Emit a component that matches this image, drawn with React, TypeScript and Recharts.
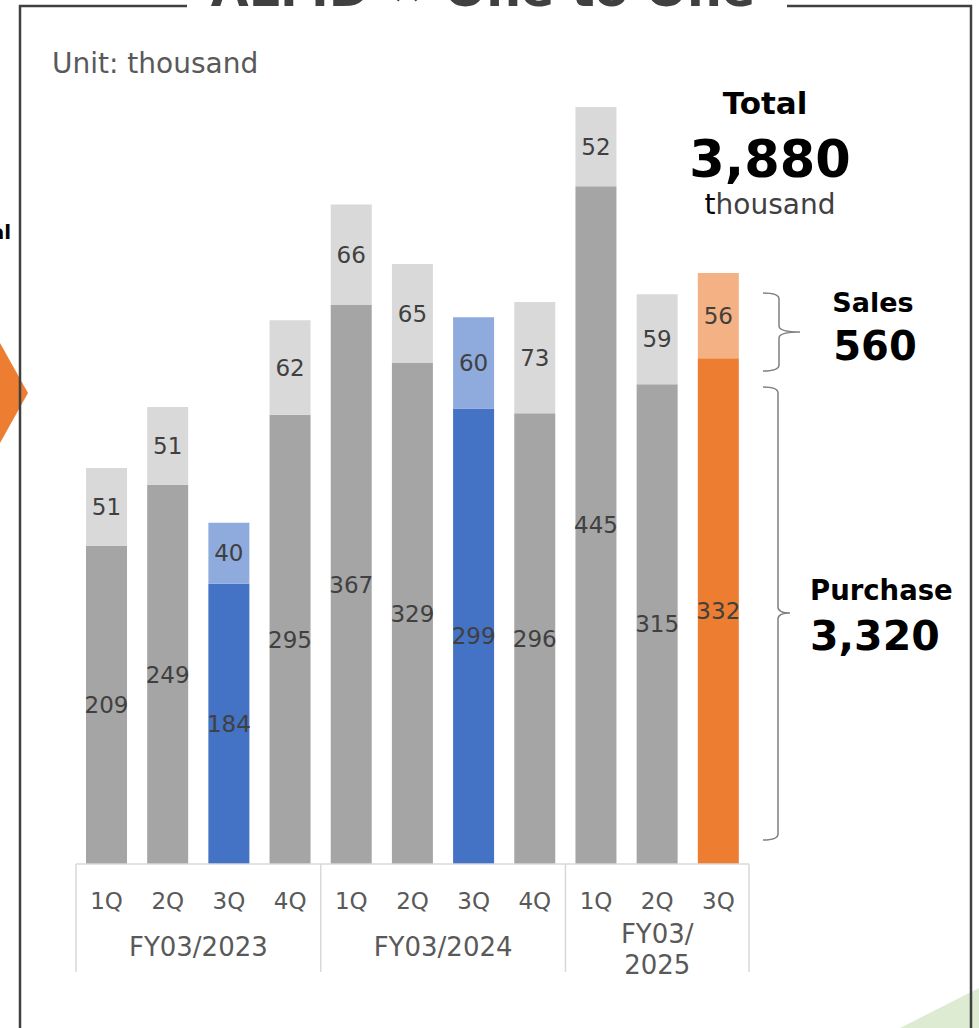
import { BarChart, Bar, XAxis, YAxis, Cell, LabelList } from "recharts";

const quarters = ["1Q", "2Q", "3Q", "4Q", "1Q", "2Q", "3Q", "4Q", "1Q", "2Q", "3Q"];
const fiscalYears = ["FY03/2023", "FY03/2024", "FY03/2025"];
const purchase = [209, 249, 184, 295, 367, 329, 299, 296, 445, 315, 332];
const sales = [51, 51, 40, 62, 66, 65, 60, 73, 52, 59, 56];

const data = quarters.map((q, i) => ({ q, purchase: purchase[i], sales: sales[i] }));

const W = 979;
const H = 1028;
const LEFT = 76;
const RIGHT = 749;
const BASE = 864;
const BAND = (RIGHT - LEFT) / quarters.length;
const FONT = "'DejaVu Sans', Verdana, sans-serif";

// 3Q bars are highlighted: blue for past years, orange for the current one
const fillFor = (i: number, top: boolean) => {
  if (i === 10) return top ? "#F4B183" : "#ED7D31";
  if (i === 2 || i === 6) return top ? "#8FAADC" : "#4472C4";
  return top ? "#D9D9D9" : "#A5A5A5";
};

function QuarterTick(props: any) {
  const { x, payload } = props;
  const i = payload.index ?? props.index;
  const line = "#D9D9D9";
  return (
    <g fontFamily={FONT}>
      <text x={x} y={BASE + 45} textAnchor="middle" fontSize={23} fill="#595959">
        {payload.value}
      </text>
      {i === 0 && <line x1={x - BAND / 2} x2={x - BAND / 2} y1={BASE} y2={972} stroke={line} strokeWidth={1.5} />}
      {(i === 3 || i === 7 || i === 10) && (
        <line x1={x + BAND / 2} x2={x + BAND / 2} y1={BASE} y2={972} stroke={line} strokeWidth={1.5} />
      )}
      {i === 1 && (
        <text x={x + BAND / 2} y={BASE + 92} textAnchor="middle" fontSize={26} fill="#595959">{fiscalYears[0]}</text>
      )}
      {i === 5 && (
        <text x={x + BAND / 2} y={BASE + 92} textAnchor="middle" fontSize={26} fill="#595959">{fiscalYears[1]}</text>
      )}
      {i === 9 && (
        <text x={x} textAnchor="middle" fontSize={26} fill="#595959">
          <tspan x={x} y={BASE + 79}>{fiscalYears[2].slice(0, 5)}</tspan>
          <tspan x={x} y={BASE + 110}>{fiscalYears[2].slice(5)}</tspan>
        </text>
      )}
    </g>
  );
}

const brace = (x0: number, x1: number, x2: number, top: number, mid: number, bot: number) => {
  const r = 6;
  return `M${x0},${top} Q${x1},${top} ${x1},${top + r} L${x1},${mid - r} Q${x1},${mid} ${x2},${mid} Q${x1},${mid} ${x1},${mid + r} L${x1},${bot - r} Q${x1},${bot} ${x0},${bot}`;
};

export default function App() {
  return (
    <div style={{ position: "absolute", left: 0, top: 0, width: W, height: H, background: "#fff", overflow: "hidden" }}>
      <BarChart
        width={W}
        height={H}
        data={data}
        margin={{ top: 72, right: W - RIGHT, bottom: 0, left: LEFT }}
        barSize={41}
      >
        <XAxis
          dataKey="q"
          height={H - BASE}
          axisLine={{ stroke: "#D9D9D9", strokeWidth: 1.5 }}
          tickLine={false}
          interval={0}
          tick={<QuarterTick />}
        />
        <YAxis hide domain={[0, 520]} />
        <Bar dataKey="purchase" stackId="a" isAnimationActive={false}>
          {data.map((_, i) => (
            <Cell key={i} fill={fillFor(i, false)} />
          ))}
          <LabelList dataKey="purchase" position="center" fill="#404040" fontSize={23} fontFamily={FONT} />
        </Bar>
        <Bar dataKey="sales" stackId="a" isAnimationActive={false}>
          {data.map((_, i) => (
            <Cell key={i} fill={fillFor(i, true)} />
          ))}
          <LabelList dataKey="sales" position="center" fill="#404040" fontSize={23} fontFamily={FONT} />
        </Bar>
      </BarChart>

      <svg width={W} height={H} style={{ position: "absolute", left: 0, top: 0, pointerEvents: "none" }} fontFamily={FONT}>
        <polygon points={`900,${H} ${W},988 ${W},${H}`} fill="#DDEBD3" />
        <polygon points="-10,343 0,343 28,393 0,443 -10,443" fill="#ED7D31" />
        <text x={11} y={239} textAnchor="end" fontSize={20} fontWeight="bold" fill="#000">Total</text>

        <path d={`M187,6 L20,6 L20,${H + 5}`} fill="none" stroke="#404040" strokeWidth={2.5} />
        <path d={`M787,6 L971,6 L971,${H + 5}`} fill="none" stroke="#404040" strokeWidth={2.5} />
        <text x={483} y={6} textAnchor="middle" fontSize={49} fontWeight="bold" fill="#404040">ALMD ⇔ One to One</text>

        <text x={52} y={73} fontSize={28} fill="#595959">Unit: thousand</text>

        <text x={765} y={114} textAnchor="middle" fontSize={31} fontWeight="bold" fill="#000">Total</text>
        <text x={770} y={177} textAnchor="middle" fontSize={51} fontWeight="bold" fill="#000">3,880</text>
        <text x={770} y={214} textAnchor="middle" fontSize={28} fill="#404040">
          <tspan fill="#000">t</tspan>housand
        </text>

        <path d={brace(763, 779, 800, 293, 332, 371)} fill="none" stroke="#7F7F7F" strokeWidth={1.5} />
        <path d={brace(763, 778, 790, 387, 613, 840)} fill="none" stroke="#7F7F7F" strokeWidth={1.5} />

        <text x={873} y={312} textAnchor="middle" fontSize={27} fontWeight="bold" fill="#000">Sales</text>
        <text x={875} y={360} textAnchor="middle" fontSize={40} fontWeight="bold" fill="#000">560</text>
        <text x={810} y={600} fontSize={27.5} fontWeight="bold" fill="#000">Purchase</text>
        <text x={810} y={650} fontSize={41} fontWeight="bold" fill="#000">3,320</text>
      </svg>
    </div>
  );
}
